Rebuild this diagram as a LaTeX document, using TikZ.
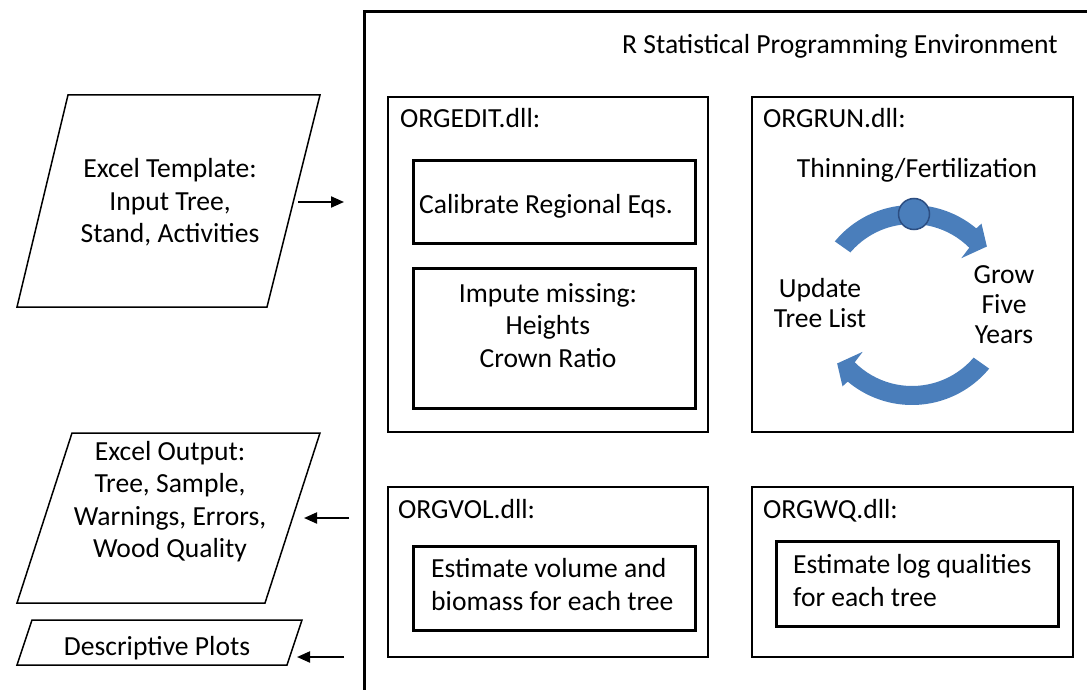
\documentclass[tikz,border=0pt]{standalone}
\usepackage{fontspec}
\setmainfont{Carlito}
\usetikzlibrary{arrows.meta}
\definecolor{cycblue}{RGB}{74,126,187}
\definecolor{cycedge}{RGB}{44,78,130}
\newcommand\mlc[1]{\begin{tabular}[t]{@{}c@{}}#1\end{tabular}}
\newcommand\mll[1]{\begin{tabular}[t]{@{}l@{}}#1\end{tabular}}
\begin{document}
\begin{tikzpicture}[x=1pt,y=-1pt,
  txt/.style={inner sep=0pt, font=\fontsize{27.6}{32.5}\selectfont},
  txtrun/.style={inner sep=0pt, font=\fontsize{27.6}{30}\selectfont},
  txtest/.style={inner sep=0pt, font=\fontsize{27.6}{33}\selectfont},
  dllbox/.style={draw, line width=1.6pt, inner sep=0pt},
  taskbox/.style={draw, line width=3pt, inner sep=0pt},
  para/.style={draw, line width=1.5pt, line join=miter},
  arr/.style={line width=2pt, -{Triangle[length=13pt,width=11pt]}},
  cyc/.style={fill=cycblue}]
\useasboundingbox (0,0) rectangle (1087,690);

% outer frame of the R environment
\coordinate (frameBL) at (364,690);
\coordinate (frameTL) at (364,12);
\coordinate (frameTR) at (1087,12);
\draw[line width=3pt] (frameBL) -- (frameTL) -- (frameTR);
\node[txt, anchor=base west] (title) at (622,54) {R Statistical Programming Environment};

% ORGEDIT
\node[dllbox, minimum width=320pt, minimum height=335pt] (orgedit) at (548,264.5) {};
\node[txt, anchor=base west] (lbledit) at (400,128) {ORGEDIT.dll:};
\node[taskbox, minimum width=282pt, minimum height=82pt] (calib) at (554,202) {};
\node[txt, anchor=base west] (txtcalib) at (419,213) {Calibrate Regional Eqs.};
\node[taskbox, minimum width=282pt, minimum height=140pt] (impute) at (554,338) {};
\node[txt, anchor=base] (txtimpute) at (548,302) {\mlc{Impute missing:\\Heights\\Crown Ratio}};

% ORGRUN
\node[dllbox, minimum width=321pt, minimum height=335pt] (orgrun) at (912.5,264.5) {};
\node[txt, anchor=base west] (lblrun) at (763,128) {ORGRUN.dll:};
\node[txt, anchor=base] (thin) at (917,178) {Thinning/Fertilization};
\node[txtrun, anchor=base] (update) at (820,297) {\mlc{Update\\Tree List}};
\node[txtrun, anchor=base] (grow) at (1004,283) {\mlc{Grow\\Five\\Years}};
\begin{scope}[shift={(912,305)}, yscale=-1]
  \fill[cyc] (140.5:100) arc[start angle=140.5, end angle=50, radius=100]
    -- (49.5:107) -- (38:95) -- (43.5:68) -- (45:81)
    arc[start angle=45, end angle=139.5, radius=81] -- cycle;
  \begin{scope}[rotate=180]
  \fill[cyc] (140.5:100) arc[start angle=140.5, end angle=50, radius=100]
    -- (49.5:107) -- (38:95) -- (43.5:68) -- (45:81)
    arc[start angle=45, end angle=139.5, radius=81] -- cycle;
  \end{scope}
\end{scope}
\node[circle, fill=cycblue, draw=cycedge, line width=1.5pt, minimum size=31pt, inner sep=0pt] (dot) at (914,214) {};

% ORGVOL
\node[dllbox, minimum width=320pt, minimum height=170pt] (orgvol) at (548,572) {};
\node[txt, anchor=base west] (lblvol) at (398,518) {ORGVOL.dll:};
\node[taskbox, minimum width=282pt, minimum height=84pt] (estvol) at (554,588) {};
\node[txtest, anchor=base west] (txtestvol) at (431,577) {\mll{Estimate volume and\\biomass for each tree}};

% ORGWQ
\node[dllbox, minimum width=321pt, minimum height=170pt] (orgwq) at (912.5,572) {};
\node[txt, anchor=base west] (lblwq) at (763,518) {ORGWQ.dll:};
\node[taskbox, minimum width=282pt, minimum height=85pt] (estlog) at (917,583.5) {};
\node[txtest, anchor=base west] (txtestlog) at (793,573) {\mll{Estimate log qualities\\for each tree}};

% input / output parallelograms
\draw[para] (68,95) -- (320,95) -- (267,307) -- (17,307) -- cycle;
\node[txt, anchor=base] (intxt) at (170,178) {\mlc{Excel Template:\\Input Tree,\\Stand, Activities}};
\draw[para] (72,433) -- (320,433) -- (265,603) -- (17,603) -- cycle;
\node[txt, anchor=base] (outtxt) at (170,460) {\mlc{Excel Output:\\Tree, Sample,\\Warnings, Errors,\\Wood Quality}};
\draw[para] (32,620) -- (302,620) -- (287,665) -- (17,665) -- cycle;
\node[txt, anchor=base] (plottxt) at (157,655) {Descriptive Plots};

% connectors
\coordinate (inEdge) at (298,202);
\coordinate (inEnd) at (344,202);
\coordinate (outStart) at (349,518);
\coordinate (outEdge) at (304,518);
\coordinate (plotStart) at (344,657);
\coordinate (plotEdge) at (297,657);
\draw[arr] (inEdge) -- (inEnd);
\draw[arr] (outStart) -- (outEdge);
\draw[arr] (plotStart) -- (plotEdge);
\end{tikzpicture}
\end{document}
